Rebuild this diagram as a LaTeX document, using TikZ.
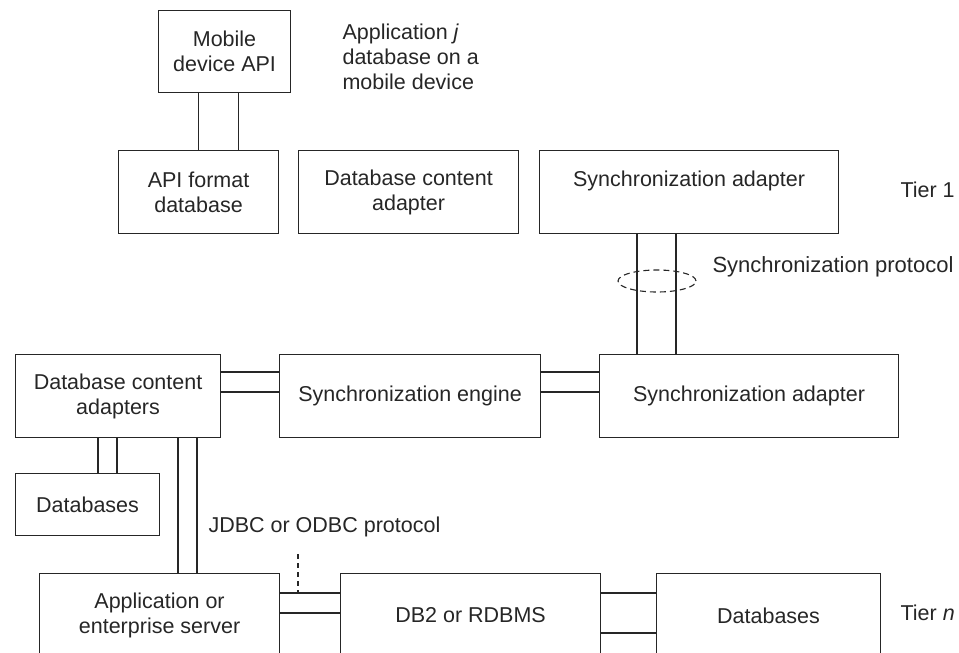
\documentclass[tikz,border=0pt]{standalone}
\usepackage{fontspec}
\setmainfont{Liberation Sans}

\begin{document}
\begin{tikzpicture}[x=1pt, y=-1pt, line width=1.1pt, black!85,
  box/.style={draw, anchor=north west, inner sep=0pt, align=center,
    font=\fontsize{21.5}{25}\selectfont},
  lbl/.style={inner sep=0pt, align=left, font=\fontsize{21.5}{25}\selectfont}]
  \useasboundingbox (0,0) rectangle (959,653);
  \clip (0,0) rectangle (959,653);
  % tier 1
  \node[box, minimum width=132pt, minimum height=82pt] (mob) at (158,10) {Mobile\\device API};
  \node[box, minimum width=160pt, minimum height=83pt] (apidb) at (118,150) {API format\\database};
  \node[box, minimum width=220pt, minimum height=83pt] (dbca) at (298,150) {Database content\\adapter};
  \node[box, minimum width=299pt, minimum height=83pt, text depth=26pt] (syncad) at (539,150) {Synchronization adapter};
  \node[lbl, anchor=north west] (appj) at (342,23) {Application \textit{j}\\database on a\\mobile device};
  \node[lbl, anchor=west] (tierone) at (900,190) {Tier 1};
  % middle row
  \node[box, minimum width=205pt, minimum height=83pt] (dbcas) at (15,354) {Database content\\adapters};
  \node[box, minimum width=261pt, minimum height=83pt] (engine) at (279,354) {Synchronization engine};
  \node[box, minimum width=299pt, minimum height=83pt] (syncad2) at (599,354) {Synchronization adapter};
  \node[box, minimum width=144pt, minimum height=62pt] (dbsl) at (15,473) {Databases};
  \node[lbl, anchor=west, font=\fontsize{22}{25}\selectfont] (syncprot) at (712,267) {Synchronization protocol};
  % tier n
  \node[box, minimum width=240pt, minimum height=84pt] (appsrv) at (39,573) {Application or\\enterprise server};
  \node[box, minimum width=260pt, minimum height=84pt] (db2) at (340,573) {DB2 or RDBMS};
  \node[box, minimum width=224pt, minimum height=84pt] (dbsr) at (656,573) {Databases};
  \node[lbl, anchor=west] (jdbc) at (208,527) {JDBC or ODBC protocol};
  \node[lbl, anchor=west] (tiern) at (900,613) {Tier \textit{n}};

  % double links
  \foreach \d in {-26pt,14pt} { \draw ([xshift=\d]mob.south) -- ([xshift=\d]mob.south |- apidb.north); }
  \foreach \d in {98pt,137pt} { \draw ([xshift=\d]syncad.south west) -- ([xshift=\d]syncad.south west |- syncad2.north); }
  \foreach \d in {18pt,38pt} {
    \draw ([yshift=-\d]dbcas.north east) -- ([yshift=-\d]dbcas.north east -| engine.west);
    \draw ([yshift=-\d]engine.north east) -- ([yshift=-\d]engine.north east -| syncad2.west);
  }
  \foreach \d in {83pt,102pt} { \draw ([xshift=\d]dbcas.south west) -- ([xshift=\d]dbcas.south west |- dbsl.north); }
  \foreach \d in {163pt,182pt} { \draw ([xshift=\d]dbcas.south west) -- ([xshift=\d]dbcas.south west |- appsrv.north); }
  \foreach \d in {20pt,40pt} { \draw ([yshift=-\d]appsrv.north east) -- ([yshift=-\d]appsrv.north east -| db2.west); }
  \foreach \d in {20pt,60pt} { \draw ([yshift=-\d]db2.north east) -- ([yshift=-\d]db2.north east -| dbsr.west); }

  % protocol marks
  \draw[dash pattern=on 6pt off 4pt] (657,281) ellipse [x radius=39pt, y radius=11pt];
  \coordinate (tap) at (298,554);
  \coordinate (link) at ([yshift=-20pt]appsrv.north east);
  \draw[dash pattern=on 5pt off 4pt] (tap) -- (tap |- link);
\end{tikzpicture}
\end{document}
